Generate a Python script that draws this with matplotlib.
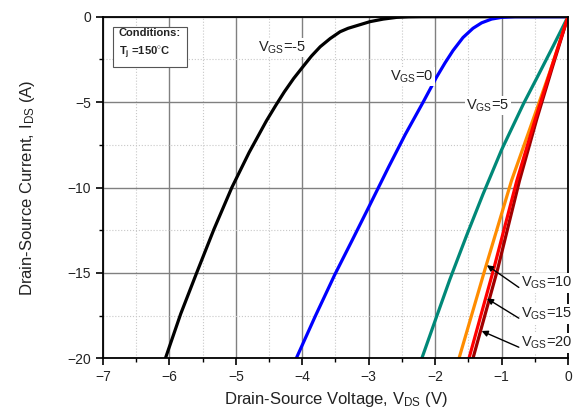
import matplotlib
matplotlib.use("Agg")
import matplotlib.pyplot as plt
from matplotlib.ticker import MultipleLocator

plt.rcParams['font.family'] = ['Liberation Sans', 'DejaVu Sans']
plt.rcParams['mathtext.fontset'] = 'custom'
plt.rcParams['mathtext.rm'] = 'Liberation Sans'
plt.rcParams['mathtext.it'] = 'Liberation Sans'
plt.rcParams['mathtext.bf'] = 'Liberation Sans:bold'

# third-quadrant output curves, Tj = 150 C
vds_m5 = [-6.06, -5.83, -5.59, -5.33, -5.06, -4.80, -4.54, -4.40, -4.27, -4.13,
          -3.99, -3.86, -3.73, -3.58, -3.43, -3.31, -3.20, -2.98, -2.78, -2.58,
          -2.40, -2.20, 0.0]
ids_m5 = [-20.0, -17.4, -15.0, -12.45, -10.0, -7.95, -6.1, -5.2, -4.4, -3.62,
          -2.93, -2.3, -1.76, -1.28, -0.88, -0.68, -0.55, -0.29, -0.14, -0.04,
          -0.01, 0.0, 0.0]

vds_0 = [-4.09, -3.80, -3.51, -3.25, -2.98, -2.70, -2.45, -2.18, -1.98, -1.85,
         -1.73, -1.58, -1.43, -1.30, -1.15, -1.00, -0.80, 0.0]
ids_0 = [-20.0, -17.5, -15.1, -13.1, -11.0, -8.8, -6.9, -5.0, -3.55, -2.7,
         -1.98, -1.22, -0.68, -0.36, -0.14, -0.04, 0.0, 0.0]

vds_5 = [-2.20, -2.00, -1.78, -1.53, -1.28, -1.00, -0.67, -0.47, -0.22, 0.0]
ids_5 = [-20.0, -17.8, -15.4, -12.85, -10.4, -7.8, -5.1, -3.6, -1.7, 0.0]

vds_10 = [-1.64, -1.25, -0.85, -0.55, -0.27, 0.0]
ids_10 = [-20.0, -14.8, -9.6, -6.3, -3.2, 0.0]

vds_15 = [-1.49, -1.12, -0.77, -0.50, -0.25, 0.0]
ids_15 = [-20.0, -14.8, -9.6, -6.1, -3.0, 0.0]

vds_20 = [-1.43, -1.06, -0.73, -0.47, -0.23, 0.0]
ids_20 = [-20.0, -14.8, -9.6, -6.0, -2.9, 0.0]

fig = plt.figure(figsize=(5.74, 4.12), dpi=100)
ax = fig.add_axes([0.1794, 0.1303, 0.8101, 0.8292])

lw = 2.3
ax.plot(vds_m5, ids_m5, color='black', lw=lw, zorder=3, solid_joinstyle='round')
ax.plot(vds_0, ids_0, color='#0000ff', lw=lw, zorder=3, solid_joinstyle='round')
ax.plot(vds_5, ids_5, color='#008878', lw=lw, zorder=3, solid_joinstyle='round')
ax.plot(vds_10, ids_10, color='#ff8c00', lw=lw, zorder=3)
ax.plot(vds_20, ids_20, color='#a00000', lw=lw, zorder=3)
ax.plot(vds_15, ids_15, color='#ff0000', lw=lw, zorder=3)

ax.set_xlim(-7, 0)
ax.set_ylim(-20, 0)
ax.xaxis.set_major_locator(MultipleLocator(1))
ax.xaxis.set_minor_locator(MultipleLocator(0.5))
ax.yaxis.set_major_locator(MultipleLocator(5))
ax.yaxis.set_minor_locator(MultipleLocator(2.5))
ax.grid(which='major', color='#808080', lw=1.0, zorder=0)
ax.grid(which='minor', color='#c8c8c8', lw=0.8, ls=':', zorder=0)
ax.tick_params(which='major', direction='out', length=5, width=1.2,
               labelsize=10, labelcolor='#222222')
ax.tick_params(which='minor', direction='out', length=3, width=1.0)
for s in ax.spines.values():
    s.set_linewidth(1.3)
    s.set_zorder(4)

ax.set_xlabel(r'Drain-Source Voltage, V$_{\mathregular{DS}}$ (V)', fontsize=12,
              color='#222222', labelpad=4)
ax.set_ylabel(r'Drain-Source Current, I$_{\mathregular{DS}}$ (A)', fontsize=12,
              color='#222222', labelpad=22)

white = dict(facecolor='white', edgecolor='none', pad=1)
ax.text(-4.67, -1.8, r'V$_{\mathregular{GS}}$=-5', fontsize=10.5, va='center',
        color='#222222', bbox=white, zorder=5)
ax.text(-2.68, -3.5, r'V$_{\mathregular{GS}}$=0', fontsize=10.5, va='center',
        color='#222222', bbox=white, zorder=5)
ax.text(-1.53, -5.2, r'V$_{\mathregular{GS}}$=5', fontsize=10.5, va='center',
        color='#222222', bbox=white, zorder=5)

# arrows for the high-VGS curves
for label, ty, tip in [('10', -15.6, (-1.22, -14.55)),
                       ('15', -17.4, (-1.22, -16.5)),
                       ('20', -19.1, (-1.30, -18.4))]:
    ax.text(-0.70, ty, r'V$_{\mathregular{GS}}$=' + label, fontsize=10.5,
            va='center', color='#222222', bbox=white, zorder=5)
    ax.annotate('', xy=tip, xytext=(-0.74, ty - 0.25),
                arrowprops=dict(arrowstyle='-|>', color='black', lw=1.0,
                                mutation_scale=9, shrinkA=0, shrinkB=0),
                zorder=6)

ax.text(-6.76, -1.65, 'Conditions:\n' + r'T$_{\mathbf{j}}$ =150$^{\circ}$C',
        fontsize=8, fontweight='bold', va='center', color='#222222',
        linespacing=1.6,
        bbox=dict(facecolor='white', edgecolor='#555555', lw=0.8, pad=4),
        zorder=5)

fig.savefig('out.png', dpi=100)
